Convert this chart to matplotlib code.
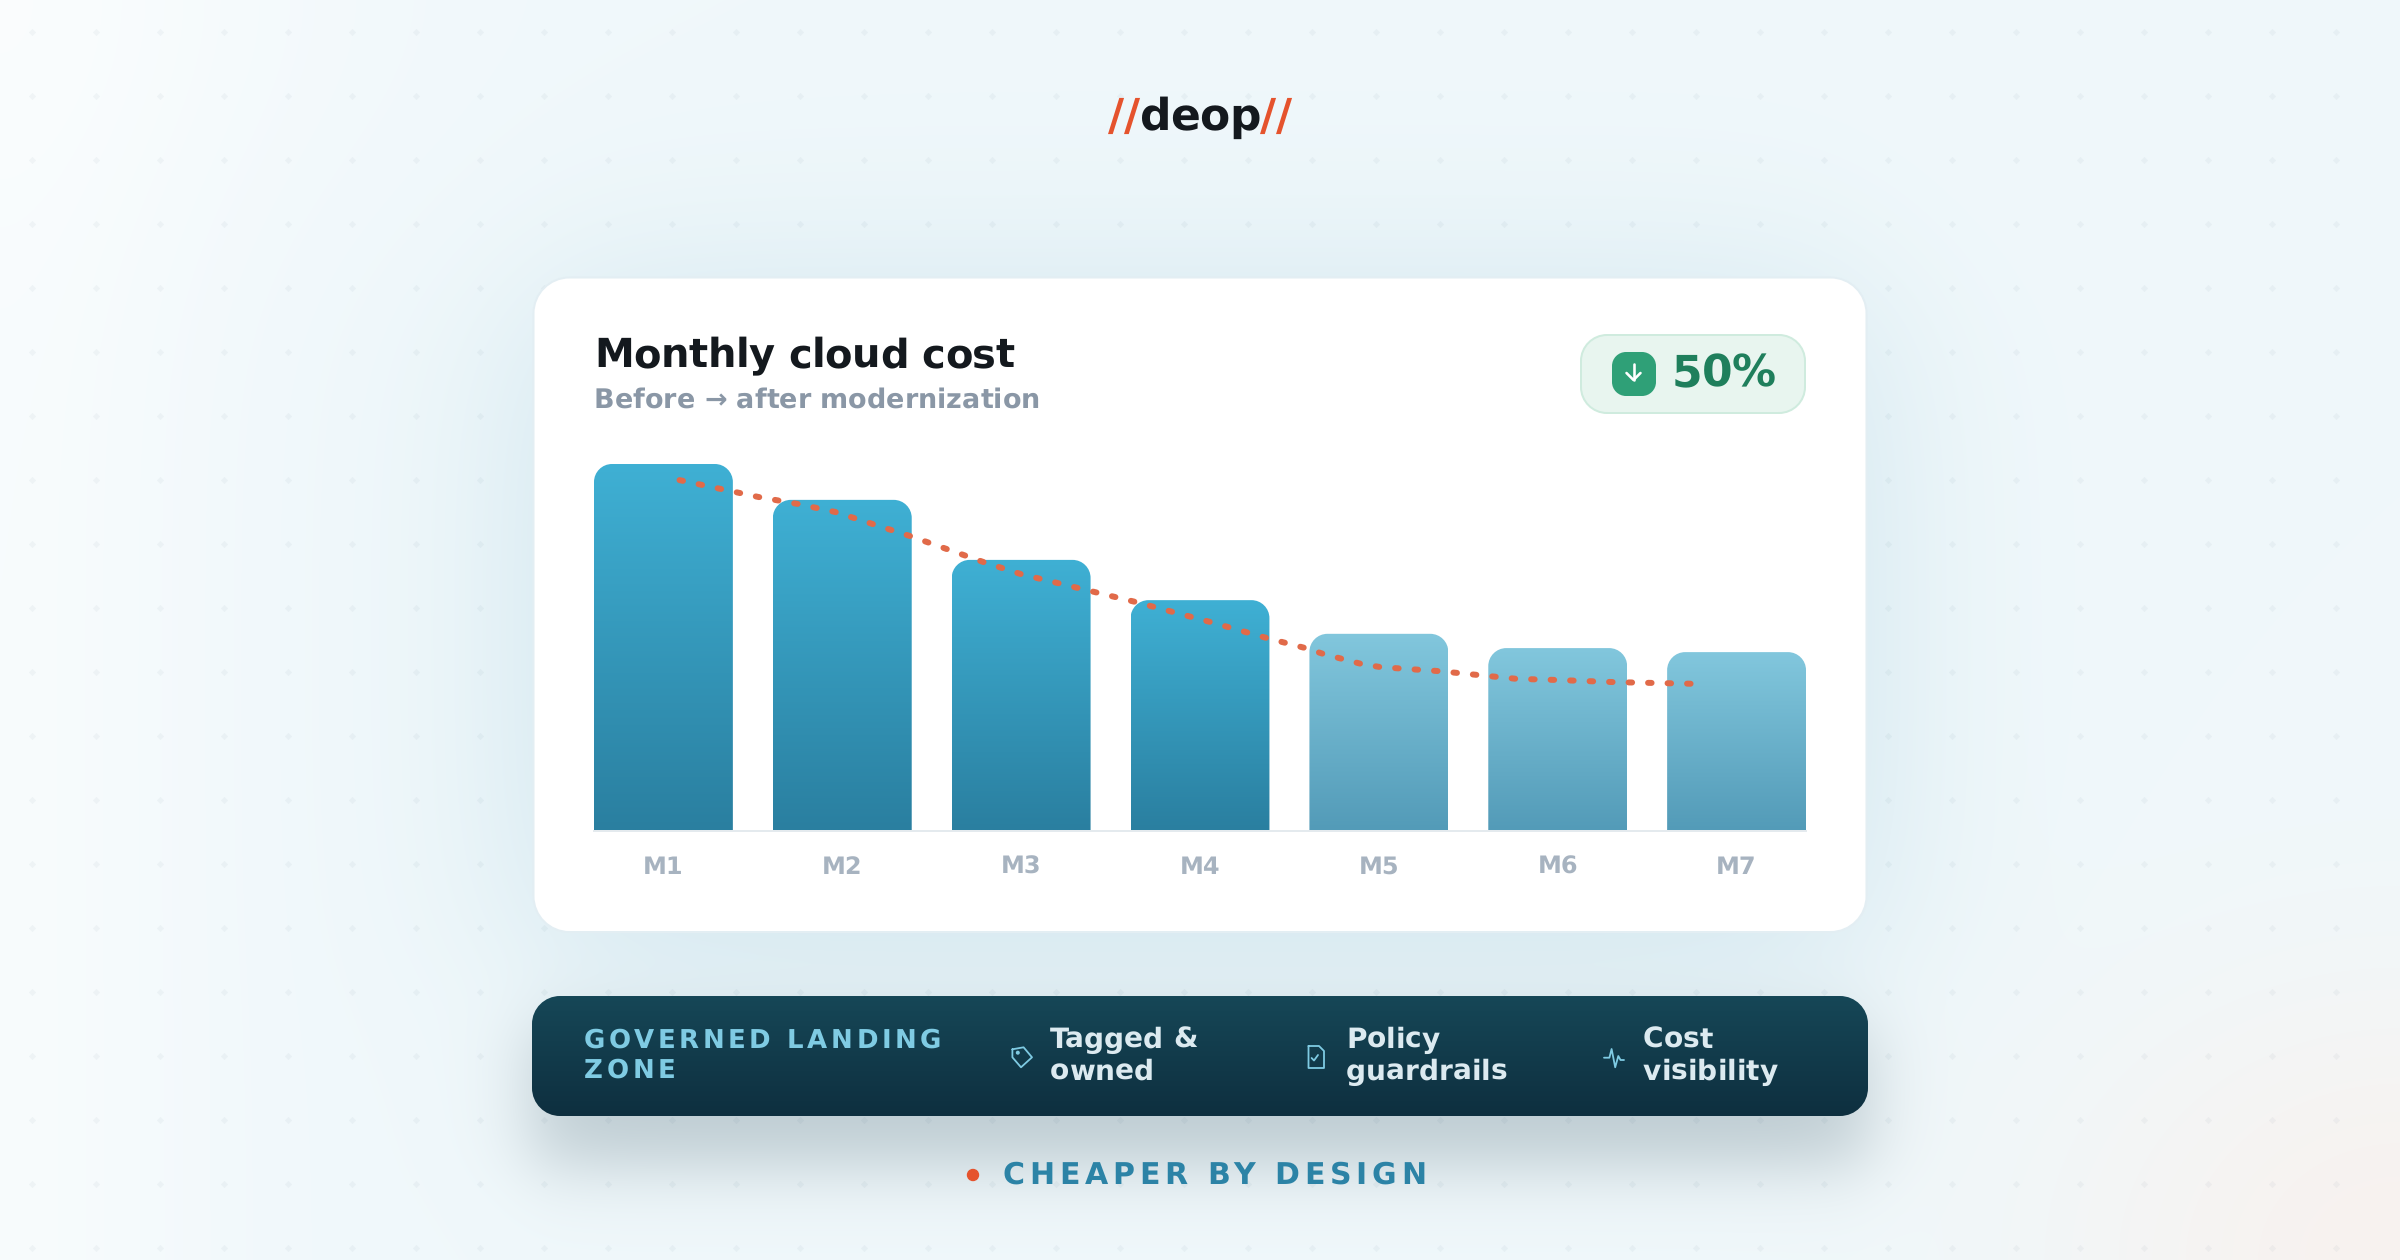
import numpy as np
import matplotlib
matplotlib.use("Agg")
import matplotlib.pyplot as plt
from matplotlib.path import Path
from matplotlib.patches import PathPatch, Circle
from matplotlib.text import Text
from matplotlib.transforms import Bbox

# ---- chart data ----
months = ["M1", "M2", "M3", "M4", "M5", "M6", "M7"]
monthly_cost = [100.0, 90.2, 73.8, 62.8, 53.6, 49.7, 48.6]
trend_pos = [0.09, 0.53, 0.75, 0.96, 1.38, 1.79, 2.00, 2.32, 2.64, 3.06,
             3.37, 3.59, 3.69, 3.90, 4.01, 4.34, 4.77, 4.99, 5.32, 5.81]
trend_cost = [95.6, 91.0, 89.1, 86.9, 80.3, 73.2, 69.9, 66.1, 62.3, 56.8,
              52.5, 49.7, 48.1, 45.4, 44.5, 43.4, 41.3, 41.0, 40.4, 39.9]
first_modernized = 4

title = "Monthly cloud cost"
subtitle = "Before \u2192 after modernization"
badge_text = "50%"
zone_lines = ["GOVERNED LANDING", "ZONE"]
features = [("Tagged &", "owned"), ("Policy", "guardrails"), ("Cost", "visibility")]
footer = "CHEAPER BY DESIGN"

W, H = 2400, 1260
plt.rcParams["font.family"] = "DejaVu Sans"
plt.rcParams["font.weight"] = "bold"
plt.rcParams["lines.scale_dashes"] = False
plt.rcParams["text.hinting"] = "no_hinting"
plt.rcParams["text.hinting_factor"] = 1


def px(v):
    """Pixel length to points at 100 dpi."""
    return v * 0.72


class TrackedText(Text):
    """Text with extra letter spacing (in pixels) between glyphs."""

    def __init__(self, *args, tracking=0.0, **kwargs):
        super().__init__(*args, **kwargs)
        self._tracking = tracking

    def _advance(self, renderer, i):
        prop = self.get_fontproperties()
        s = self.get_text()
        full = renderer.get_text_width_height_descent(s[:i + 1], prop, False)[0]
        last = renderer.get_text_width_height_descent(s[i], prop, False)[0]
        return full - last + i * self._tracking

    def draw(self, renderer):
        if not self.get_visible() or not self.get_text():
            return
        x, y = self.get_transform().transform(self.get_position())
        if renderer.flipy():
            y = renderer.get_canvas_width_height()[1] - y
        gc = renderer.new_gc()
        gc.set_foreground(self.get_color())
        gc.set_antialiased(True)
        prop = self.get_fontproperties()
        for i, ch in enumerate(self.get_text()):
            if ch != " ":
                renderer.draw_text(gc, x + self._advance(renderer, i), y, ch, prop, 0)
        gc.restore()

    def get_window_extent(self, renderer=None, dpi=None):
        box = super().get_window_extent(renderer, dpi)
        extra = self._tracking * (len(self.get_text()) - 1)
        return Bbox.from_extents(box.x0, box.y0, box.x1 + extra, box.y1)


def rounded(x0, y0, x1, y1, rx, ry=None, bottom=True):
    """Closed rounded rectangle; y0 is the top edge. Bottom corners optional."""
    ry = rx if ry is None else ry
    k = 0.5523
    sy = 1 if y1 > y0 else -1
    ryy = ry * sy
    v = [(x0 + rx, y0), (x1 - rx, y0),
         (x1 - rx + k * rx, y0), (x1, y0 + ryy - k * ryy), (x1, y0 + ryy)]
    c = [Path.MOVETO, Path.LINETO, Path.CURVE4, Path.CURVE4, Path.CURVE4]
    if bottom:
        v += [(x1, y1 - ryy),
              (x1, y1 - ryy + k * ryy), (x1 - rx + k * rx, y1), (x1 - rx, y1),
              (x0 + rx, y1),
              (x0 + rx - k * rx, y1), (x0, y1 - ryy + k * ryy), (x0, y1 - ryy)]
        c += [Path.LINETO, Path.CURVE4, Path.CURVE4, Path.CURVE4,
              Path.LINETO, Path.CURVE4, Path.CURVE4, Path.CURVE4]
    else:
        v += [(x1, y1), (x0, y1)]
        c += [Path.LINETO, Path.LINETO]
    v += [(x0, y0 + ryy),
          (x0, y0 + ryy - k * ryy), (x0 + rx - k * rx, y0), (x0 + rx, y0),
          (x0 + rx, y0)]
    c += [Path.LINETO, Path.CURVE4, Path.CURVE4, Path.CURVE4, Path.CLOSEPOLY]
    return Path(v, c)


def hex_rgb(h):
    return np.array(matplotlib.colors.to_rgb(h))


def box_glow(xx, yy, x0, y0, x1, y1, s):
    fx = 0.5 * (np.tanh((xx - x0) / s) - np.tanh((xx - x1) / s))
    fy = 0.5 * (np.tanh((yy - y0) / s) - np.tanh((yy - y1) / s))
    return fx * fy


def backdrop():
    yy, xx = np.mgrid[0:H, 0:W] + 0.5
    img = np.ones((H, W, 3)) * hex_rgb("#F0F8FB")

    def mix(col, a):
        nonlocal img
        img = img * (1 - a[..., None]) + hex_rgb(col) * a[..., None]

    mix("#FFFFFF", 0.5 * np.exp(-(xx / 220.0) ** 2))
    mix("#FFFFFF", 0.35 * np.exp(-((xx / 420.0) ** 2 + (yy / 240.0) ** 2)))
    mix("#F9F1ED", 0.85 * np.exp(-(((xx - 2400) / 340.0) ** 2 + ((yy - 1260) / 280.0) ** 2)))
    mix("#1E7FA6", 0.16 * box_glow(xx, yy, 533, 300, 1867, 960, 120))
    mix("#0E3040", 0.22 * box_glow(xx, yy, 532, 1030, 1868, 1165, 42))
    return img


fig = plt.figure(figsize=(W / 100, H / 100), dpi=100)

# Full-figure layer, addressed in pixels, for the page furniture
page = fig.add_axes([0, 0, 1, 1])
page.set_xlim(0, W)
page.set_ylim(H, 0)
page.axis("off")
page.imshow(backdrop(), extent=(0, W, H, 0), aspect="auto", zorder=0, interpolation="nearest")
page.set_xlim(0, W)
page.set_ylim(H, 0)

gx, gy = np.meshgrid(np.arange(32, W, 64), np.arange(32, H, 64))
page.scatter(gx.ravel(), gy.ravel(), marker="D", s=14, color="#14405A", alpha=0.04,
             linewidths=0, zorder=1)


def label(x, y, s, size, color, tracking=0.0, **kw):
    t = TrackedText(x, y, s, tracking=tracking, fontsize=px(size), color=color,
                    fontweight="bold", va="baseline", ha="left",
                    transform=page.transData, zorder=6, **kw)
    page.add_artist(t)
    return t


# Wordmark
label(1108, 130, "//", 44, "#E5532D")
label(1139, 130, "deop", 44, "#14191E", tracking=-0.4)
label(1260, 130, "//", 44, "#E5532D")

# Card
page.add_patch(PathPatch(rounded(533.5, 277.5, 1866.5, 932, 36), facecolor="#FFFFFF",
                         edgecolor="#E3EEF3", linewidth=px(2), zorder=2))
label(594, 367, title, 40, "#14191E", tracking=-0.4)
label(594, 408, subtitle, 27, "#8A97A6")

# Savings badge
page.add_patch(PathPatch(rounded(1581, 335, 1805, 413, 26), facecolor="#E8F5EF",
                         edgecolor="#CFEBDE", linewidth=px(2), zorder=3))
page.add_patch(PathPatch(rounded(1612, 352, 1656, 396, 14), facecolor="#2FA077",
                         edgecolor="none", zorder=4))
page.plot([1633.5, 1633.5], [364, 380], color="white", lw=px(2.6), zorder=5, solid_capstyle="round")
page.plot([1626.5, 1633.5, 1640.5], [373, 380, 373], color="white", lw=px(2.6), zorder=5,
          solid_capstyle="round", solid_joinstyle="round")
label(1672, 386, badge_text, 44, "#1F7F5C", tracking=-0.8)

# Governed landing zone strip
strip = PathPatch(rounded(532, 996, 1868, 1116, 28), facecolor="none", edgecolor="none", zorder=3)
page.add_patch(strip)
ramp = np.linspace(0, 1, 120)[:, None, None]
strip_img = hex_rgb("#164757") * (1 - ramp) + hex_rgb("#0E2F3F") * ramp
im = page.imshow(strip_img, extent=(532, 1868, 1116, 996), aspect="auto", zorder=3)
im.set_clip_path(strip)
page.set_xlim(0, W)
page.set_ylim(H, 0)

label(584, 1048, zone_lines[0], 26, "#7FCBE3", tracking=3.6)
label(584, 1078, zone_lines[1], 26, "#7FCBE3", tracking=3.6)
for x, (a, b) in zip((1050, 1346, 1643), features):
    label(x, 1048, a, 28, "#DCEAF0")
    label(x, 1080, b, 28, "#DCEAF0")

icon = dict(color="#7FCBE3", lw=px(1.8), zorder=5, solid_joinstyle="round", solid_capstyle="round")
# tag
page.plot([1012.4, 1023.6, 1032, 1021, 1012.4, 1012.4],
          [1049.3, 1047.3, 1057.3, 1067.3, 1057.3, 1049.3], **icon)
page.add_patch(Circle((1017.8, 1052.7), 1.3, color="#7FCBE3", zorder=5))
# document with check
page.plot([1308.5, 1319, 1324, 1324, 1308.5, 1308.5], [1046, 1046, 1051, 1068, 1068, 1046], **icon)
page.plot([1311.6, 1314, 1318], [1058, 1060.5, 1055], **icon)
# pulse
page.plot([1604, 1609.4, 1611.6, 1615.2, 1618.3, 1620.5, 1624],
          [1057.7, 1057.7, 1049, 1067.3, 1056, 1060, 1060], **icon)

# Footer
page.add_patch(Circle((973, 1175), 5.5, color="#E5532D", zorder=5))
label(1003, 1184, footer, 30, "#2C83A6", tracking=4.7)

# ---- bar chart, in its own data axes ----
left, right, base, top = 594, 1806, 830, 464
ax = fig.add_axes([left / W, 1 - base / H, (right - left) / W, (base - top) / H], zorder=5)
ax.patch.set_alpha(0)
pos = np.arange(len(months))
bars = ax.bar(pos, monthly_cost, width=0.7764, color="none", linewidth=0)

pitch_px = (right - left) / (len(months) - 1 + 0.7764)
xlim = (-0.3882, len(months) - 1 + 0.3882)
ylim = (0, 100)
grad = np.linspace(0, 1, 256)[:, None, None]
early_rgb = hex_rgb("#3FB0D4") * (1 - grad) + hex_rgb("#2A7FA0") * grad
later_rgb = hex_rgb("#82C7DD") * (1 - grad) + hex_rgb("#539BB8") * grad
for i, b in enumerate(bars):
    x0, w, h = b.get_x(), b.get_width(), b.get_height()
    outline = rounded(x0, h, x0 + w, 0, 18 / pitch_px, 18 * 100 / (base - top), bottom=False)
    clip = PathPatch(outline, transform=ax.transData, facecolor="none", edgecolor="none")
    ax.add_patch(clip)
    bar_im = ax.imshow(later_rgb if i >= first_modernized else early_rgb,
                       extent=(x0, x0 + w, 0, h), aspect="auto", zorder=2)
    bar_im.set_clip_path(clip)

ax.plot(trend_pos, trend_cost, color="#E16A49", lw=px(6), zorder=3, clip_on=False,
        linestyle=(0, (px(3.5), px(16.0))), dash_capstyle="round", dash_joinstyle="round")

# The spine move rebuilds the ticks, so it has to precede the tick styling
for s in ("top", "left", "right"):
    ax.spines[s].set_visible(False)
ax.spines["bottom"].set_color("#E4EAEE")
ax.spines["bottom"].set_linewidth(px(2))
ax.spines["bottom"].set_position(("outward", px(1)))

ax.set_xlim(*xlim)
ax.set_ylim(*ylim)
ax.set_xticks(pos, months)
ax.set_yticks([])
ax.tick_params(axis="x", length=0, pad=px(43), labelsize=px(24), labelcolor="#A7B3C0")
for tick_label in ax.get_xticklabels():
    tick_label.set_verticalalignment("baseline")

fig.savefig("out.png", dpi=100)
